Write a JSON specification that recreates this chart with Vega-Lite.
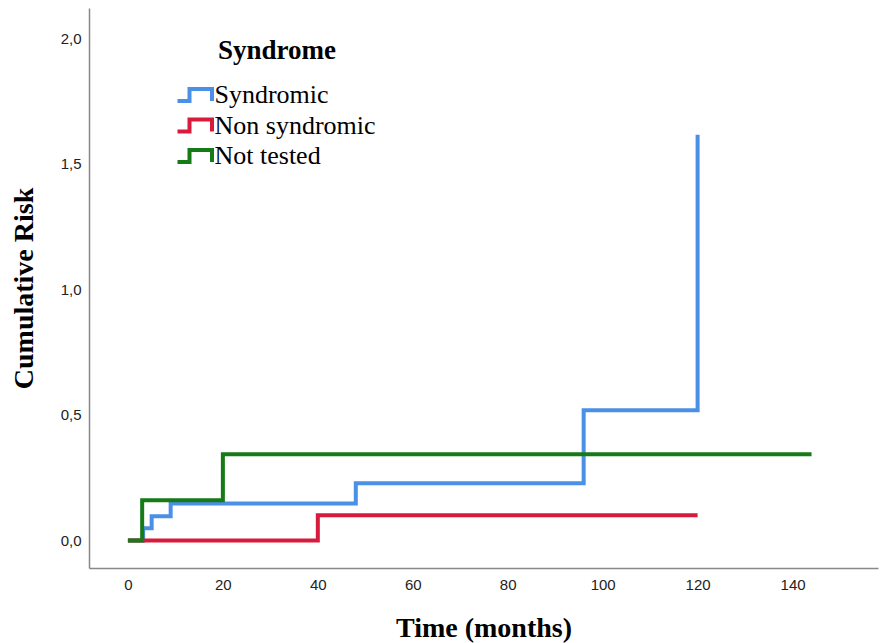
{
  "$schema": "https://vega.github.io/schema/vega-lite/v6.json",
  "autosize": {"type": "none"},
  "padding": {"left": 89, "top": 8, "right": 2, "bottom": 75},
  "width": 789,
  "height": 560,
  "background": "white",
  "config": {
    "view": {"stroke": null},
    "axis": {"grid": false, "ticks": false, "domainColor": "#888888", "domainWidth": 1.5, "labelColor": "#222222", "labelFont": "Liberation Sans", "labelFontSize": 15, "titleFont": "Liberation Serif", "titleFontWeight": "bold", "titleFontSize": 28, "titleColor": "#000000"}
  },
  "data": {"values": [
    {"group": "Syndromic", "time": 0, "risk": 0},
    {"group": "Syndromic", "time": 3.2, "risk": 0.048},
    {"group": "Syndromic", "time": 5, "risk": 0.096},
    {"group": "Syndromic", "time": 9, "risk": 0.147},
    {"group": "Syndromic", "time": 48, "risk": 0.227},
    {"group": "Syndromic", "time": 96, "risk": 0.518},
    {"group": "Syndromic", "time": 120, "risk": 1.615},
    {"group": "Non syndromic", "time": 0, "risk": 0},
    {"group": "Non syndromic", "time": 40, "risk": 0.1},
    {"group": "Non syndromic", "time": 120, "risk": 0.1},
    {"group": "Not tested", "time": 0, "risk": 0},
    {"group": "Not tested", "time": 3, "risk": 0.16},
    {"group": "Not tested", "time": 20, "risk": 0.343},
    {"group": "Not tested", "time": 144, "risk": 0.343}
  ]},
  "mark": {"type": "line", "interpolate": "step-after", "strokeWidth": 4},
  "encoding": {
    "x": {"field": "time", "type": "quantitative", "scale": {"domain": [-8.2, 158], "nice": false, "zero": false},
      "axis": {"values": [0, 20, 40, 60, 80, 100, 120, 140], "title": "Time (months)", "labelPadding": 9, "titlePadding": 22, "format": "d"}},
    "y": {"field": "risk", "type": "quantitative", "scale": {"domain": [-0.11, 2.12], "nice": false, "zero": false},
      "axis": {"values": [0, 0.5, 1, 1.5, 2], "labelExpr": "replace(format(datum.value, '.1f'), '.', ',')", "title": "Cumulative Risk", "labelPadding": 8, "titlePadding": 22}},
    "color": {"field": "group", "type": "nominal",
      "scale": {"domain": ["Syndromic", "Non syndromic", "Not tested"], "range": ["#4a90e6", "#d81b3c", "#167a16"]},
      "legend": {"title": "Syndrome", "orient": "none", "legendX": 89, "legendY": 30, "padding": 0,
        "titleFont": "Liberation Serif", "titleFontWeight": "bold", "titleFontSize": 27, "titleColor": "#000000", "titleAnchor": "middle", "titlePadding": 17,
        "labelFont": "Liberation Serif", "labelFontSize": 26, "labelColor": "#000000", "labelOffset": 10.5, "rowPadding": 2.5, "labelLimit": 400,
        "symbolType": "M-1.35,0.6H-0.15V-0.6H2.1V0.6", "symbolSize": 400, "symbolStrokeWidth": 4, "symbolFillColor": "transparent"}
    }
  }
}
